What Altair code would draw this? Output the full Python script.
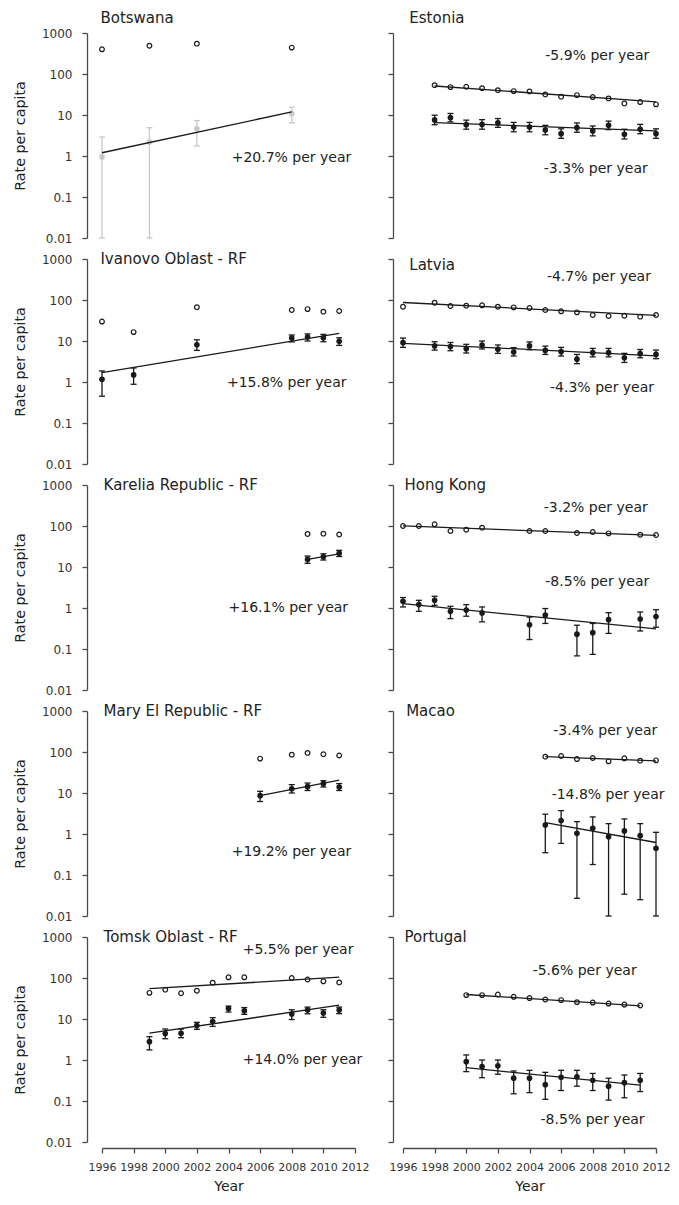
import altair as alt
import pandas as pd

# ---------------- data ----------------
# Botswana
bw_years = [1996, 1999, 2002, 2008]
bw_open = [400, 490, 550, 440]
bw_rate = [0.95, 2.2, 4.6, 10.8]
bw_lo = [0.01, 0.01, 1.75, 6.4]
bw_hi = [2.9, 4.9, 7.3, 15.4]
bw_fit_years = [1996, 2008]
bw_fit_rate = [1.2, 11.9]

# Estonia
ee_years = [1998, 1999, 2000, 2001, 2002, 2003, 2004, 2005, 2006, 2007, 2008, 2009, 2010, 2011, 2012]
ee_open = [53.5, 47.9, 48.9, 45.2, 40.4, 38.3, 37.6, 31.8, 28.0, 30.6, 27.4, 25.4, 19.2, 20.7, 18.2]
ee_rate = [7.6, 8.6, 5.8, 5.9, 6.4, 5.1, 5.1, 4.3, 3.5, 4.9, 4.1, 5.6, 3.4, 4.5, 3.5]
ee_hi = [9.9, 10.9, 7.5, 7.7, 8.2, 6.6, 6.6, 5.6, 4.6, 6.4, 5.4, 7.1, 4.5, 5.9, 4.6]
ee_lo = [5.8, 6.8, 4.5, 4.5, 5.0, 3.9, 3.9, 3.3, 2.7, 3.8, 3.1, 4.4, 2.6, 3.5, 2.7]
ee_fit_years = [1998, 2012]
ee_fit_open = [51, 21]
ee_fit_rate = [6.5, 4.1]

# Ivanovo Oblast
iv_years = [1996, 1998, 2002, 2008, 2009, 2010, 2011]
iv_open = [29.8, 16.5, 67, 57, 60, 52, 54]
iv_rate = [1.17, 1.49, 8.1, 11.8, 12.5, 12.0, 9.8]
iv_hi = [1.86, 2.2, 10.7, 14.0, 14.9, 14.5, 12.0]
iv_lo = [0.45, 0.88, 5.9, 9.5, 10.0, 9.6, 7.8]
iv_fit_years = [1996, 2011]
iv_fit_rate = [1.7, 15.4]

# Latvia
lv_years = [1996, 1998, 1999, 2000, 2001, 2002, 2003, 2004, 2005, 2006, 2007, 2008, 2009, 2010, 2011, 2012]
lv_open = [68.7, 86, 71.5, 72.8, 74.2, 68.7, 66.2, 63.8, 57, 53, 50, 43, 40.7, 41.4, 39.2, 43]
lv_rate = [9.1, 7.6, 7.3, 6.5, 8.0, 6.3, 5.4, 7.6, 5.9, 5.5, 3.6, 5.2, 5.2, 3.9, 4.9, 4.7]
lv_hi = [11.8, 9.6, 9.2, 8.3, 10.0, 8.0, 6.9, 9.5, 7.5, 7.0, 4.7, 6.6, 6.6, 5.0, 6.2, 6.0]
lv_lo = [7.0, 6.0, 5.8, 5.1, 6.4, 5.0, 4.3, 6.1, 4.7, 4.3, 2.8, 4.1, 4.1, 3.0, 3.9, 3.7]
lv_fit_years = [1996, 2012]
lv_fit_open = [87, 42]
lv_fit_rate = [8.8, 4.36]

# Karelia Republic
ka_years = [2009, 2010, 2011]
ka_open = [64, 65, 62]
ka_rate = [15.3, 17.8, 21.5]
ka_hi = [18.5, 21.0, 25.5]
ka_lo = [12.3, 14.8, 18.0]
ka_fit_years = [2009, 2011]
ka_fit_rate = [15.4, 20.8]

# Hong Kong
hk_years = [1996, 1997, 1998, 1999, 2000, 2001, 2004, 2005, 2007, 2008, 2009, 2011, 2012]
hk_open = [100, 100, 110, 75.5, 81.3, 91, 75.5, 75.5, 67.5, 71.4, 66.2, 61.4, 60.3]
hk_rate = [1.46, 1.21, 1.54, 0.83, 0.89, 0.76, 0.39, 0.67, 0.23, 0.25, 0.52, 0.54, 0.62]
hk_hi = [1.8, 1.54, 1.93, 1.1, 1.21, 1.06, 0.6, 0.97, 0.38, 0.42, 0.77, 0.8, 0.91]
hk_lo = [1.06, 0.83, 1.16, 0.55, 0.63, 0.46, 0.17, 0.42, 0.068, 0.074, 0.24, 0.275, 0.34]
hk_fit_years = [1996, 2012]
hk_fit_open = [100.4, 59.4]
hk_fit_rate = [1.28, 0.31]

# Mary El Republic
me_years = [2006, 2008, 2009, 2010, 2011]
me_open = [69, 86, 95, 88, 82]
me_rate = [8.6, 12.7, 14.3, 16.9, 14.0]
me_hi = [11.0, 16.0, 17.5, 20.0, 17.0]
me_lo = [6.2, 10.0, 11.5, 14.0, 11.5]
me_fit_years = [2006, 2011]
me_fit_rate = [8.6, 20.5]

# Macao
mo_years = [2005, 2006, 2007, 2008, 2009, 2010, 2011, 2012]
mo_open = [77, 79.8, 67.3, 71.3, 59.1, 70.2, 61.5, 62.6]
mo_rate = [1.66, 2.12, 1.04, 1.38, 0.86, 1.19, 0.91, 0.45]
mo_hi = [3.04, 3.72, 2.0, 2.61, 1.79, 2.33, 1.79, 1.1]
mo_lo = [0.35, 0.59, 0.027, 0.18, 0.01, 0.034, 0.025, 0.01]
mo_fit_years = [2005, 2012]
mo_fit_open = [77, 60.5]
mo_fit_rate = [1.89, 0.62]

# Tomsk Oblast
to_years = [1999, 2000, 2001, 2002, 2003, 2004, 2005, 2008, 2009, 2010, 2011]
to_open = [43.5, 52, 42.5, 49, 77, 104, 104, 100, 92, 83, 78]
to_rate = [2.8, 4.4, 4.5, 6.9, 8.7, 18, 15.9, 13.2, 16.5, 14.0, 16.5]
to_hi = [3.7, 5.7, 5.7, 8.3, 10.8, 20.6, 19, 16.8, 19.5, 16.8, 19.5]
to_lo = [1.76, 3.3, 3.5, 5.6, 6.6, 14.8, 13, 9.7, 13.4, 11, 13.5]
to_fit_years = [1999, 2011]
to_fit_open = [55, 104.5]
to_fit_rate = [4.5, 21.7]

# Portugal
pt_years = [2000, 2001, 2002, 2003, 2004, 2005, 2006, 2007, 2008, 2009, 2010, 2011]
pt_open = [38.3, 38.3, 39.6, 34.8, 32.4, 29.9, 28.9, 25.8, 25.2, 23.8, 22.5, 21.3]
pt_rate = [0.91, 0.69, 0.72, 0.36, 0.36, 0.25, 0.38, 0.39, 0.32, 0.23, 0.28, 0.32]
pt_hi = [1.33, 1.0, 1.0, 0.54, 0.56, 0.5, 0.56, 0.56, 0.47, 0.36, 0.43, 0.47]
pt_lo = [0.52, 0.37, 0.45, 0.15, 0.16, 0.11, 0.18, 0.23, 0.18, 0.105, 0.12, 0.17]
pt_fit_years = [2000, 2011]
pt_fit_open = [39.6, 21.0]
pt_fit_rate = [0.65, 0.245]

# Panel titles: (text, year, value)
bw_title = ("Botswana", 1995.9, 2300)
ee_title = ("Estonia", 1996.4, 2300)
iv_title = ("Ivanovo Oblast - RF", 1995.9, 1000)
lv_title = ("Latvia", 1996.4, 700)
ka_title = ("Karelia Republic - RF", 1996.1, 1000)
hk_title = ("Hong Kong", 1996.1, 1000)
me_title = ("Mary El Republic - RF", 1996.1, 1000)
mo_title = ("Macao", 1996.2, 1000)
to_title = ("Tomsk Oblast - RF", 1996.1, 1000)
pt_title = ("Portugal", 1996.1, 1000)

# Trend annotations: (text, year, value)
bw_text = [("+20.7% per year", 2004.2, 0.87)]
ee_text = [("-5.9% per year", 2005.0, 270), ("-3.3% per year", 2004.9, 0.48)]
iv_text = [("+15.8% per year", 2003.9, 0.97)]
lv_text = [("-4.7% per year", 2005.1, 357), ("-4.3% per year", 2005.3, 0.70)]
ka_text = [("+16.1% per year", 2004.0, 1.0)]
hk_text = [("-3.2% per year", 2004.9, 279), ("-8.5% per year", 2005.0, 4.3)]
me_text = [("+19.2% per year", 2004.2, 0.37)]
mo_text = [("-3.4% per year", 2005.5, 327), ("-14.8% per year", 2005.4, 9.1)]
to_text = [("+5.5% per year", 2004.9, 470), ("+14.0% per year", 2004.9, 1.0)]
pt_text = [("-5.6% per year", 2004.2, 145), ("-8.5% per year", 2004.7, 0.034)]

y_ticks = [0.01, 0.1, 1, 10, 100, 1000]
x_ticks = [1996, 1998, 2000, 2002, 2004, 2006, 2008, 2010, 2012]

FONT = "DejaVu Sans"
INK = "#1a1a1a"
AX = "#4a4a4a"

xscale = alt.Scale(domain=[1996, 2012], nice=False, zero=False)
yscale = alt.Scale(type="log", domain=[0.01, 1000], nice=False)


def left_axis():
    return alt.Axis(values=y_ticks, format="~g", title="Rate per capita", grid=False,
                    offset=15, tickSize=5, labelPadding=10, labelFontSize=12,
                    labelFlush=False, labelOverlap=False,
                    titleFontSize=14.3, titlePadding=14, titleFontWeight="normal")


def right_axis():
    return alt.Axis(values=y_ticks, labels=False, title=None, grid=False,
                    offset=10, tickSize=5)


def bottom_axis():
    return alt.Axis(values=x_ticks, format="d", title="Year", grid=False,
                    offset=6, tickSize=5, labelPadding=8, labelFontSize=11,
                    labelFlush=False, labelOverlap=False,
                    titleFontSize=14, titlePadding=7, titleFontWeight="normal")


def panel(years, openv, rate, lo, hi, fit_years, fit_open, fit_rate, title, texts,
          col, bottom, pt_color=INK, err_color=INK):
    xa = bottom_axis() if bottom else None
    ya = left_axis() if col == 0 else right_axis()

    def X(f):
        return alt.X(f, type="quantitative", scale=xscale, axis=xa)

    def Y(f):
        return alt.Y(f, type="quantitative", scale=yscale, axis=ya)

    pts = pd.DataFrame({"year": years, "rate": rate, "lo": lo, "hi": hi})
    opn = pd.DataFrame({"year": years, "v": openv})
    layers = []
    layers.append(alt.Chart(opn).mark_point(shape="circle", filled=False, size=22,
                                            strokeWidth=1.2, color=INK, opacity=1)
                  .encode(x=X("year"), y=Y("v")))
    layers.append(alt.Chart(pts).mark_rule(strokeWidth=1.3, color=err_color)
                  .encode(x=X("year"), y=Y("lo"), y2=alt.Y2("hi")))
    layers.append(alt.Chart(pts).mark_tick(orient="horizontal", size=6, thickness=1.3,
                                           color=err_color, opacity=1)
                  .encode(x=X("year"), y=Y("hi")))
    layers.append(alt.Chart(pts).mark_tick(orient="horizontal", size=6, thickness=1.3,
                                           color=err_color, opacity=1)
                  .encode(x=X("year"), y=Y("lo")))
    layers.append(alt.Chart(pts).mark_circle(size=32, color=pt_color, opacity=1)
                  .encode(x=X("year"), y=Y("rate")))
    if fit_open is not None:
        fo = pd.DataFrame({"year": fit_years, "v": fit_open})
        layers.append(alt.Chart(fo).mark_line(color=INK, strokeWidth=1.3)
                      .encode(x=X("year"), y=Y("v")))
    fr = pd.DataFrame({"year": fit_years, "v": fit_rate})
    layers.append(alt.Chart(fr).mark_line(color=INK, strokeWidth=1.3)
                  .encode(x=X("year"), y=Y("v")))
    tt = pd.DataFrame({"label": [title[0]], "year": [title[1]], "v": [title[2]]})
    layers.append(alt.Chart(tt).mark_text(align="left", baseline="middle", font=FONT,
                                          fontSize=15, color="#222222")
                  .encode(x=X("year"), y=Y("v"), text="label:N"))
    tx = pd.DataFrame({"label": [t[0] for t in texts],
                       "year": [t[1] for t in texts],
                       "v": [t[2] for t in texts]})
    layers.append(alt.Chart(tx).mark_text(align="left", baseline="middle", font=FONT,
                                          fontSize=14, color="#222222")
                  .encode(x=X("year"), y=Y("v"), text="label:N"))
    return alt.layer(*layers).properties(width=253, height=205)


panels = [
    panel(bw_years, bw_open, bw_rate, bw_lo, bw_hi, bw_fit_years, None, bw_fit_rate,
          bw_title, bw_text, 0, False, pt_color="#c8c8c8", err_color="#c8c8c8"),
    panel(ee_years, ee_open, ee_rate, ee_lo, ee_hi, ee_fit_years, ee_fit_open, ee_fit_rate,
          ee_title, ee_text, 1, False),
    panel(iv_years, iv_open, iv_rate, iv_lo, iv_hi, iv_fit_years, None, iv_fit_rate,
          iv_title, iv_text, 0, False),
    panel(lv_years, lv_open, lv_rate, lv_lo, lv_hi, lv_fit_years, lv_fit_open, lv_fit_rate,
          lv_title, lv_text, 1, False),
    panel(ka_years, ka_open, ka_rate, ka_lo, ka_hi, ka_fit_years, None, ka_fit_rate,
          ka_title, ka_text, 0, False),
    panel(hk_years, hk_open, hk_rate, hk_lo, hk_hi, hk_fit_years, hk_fit_open, hk_fit_rate,
          hk_title, hk_text, 1, False),
    panel(me_years, me_open, me_rate, me_lo, me_hi, me_fit_years, None, me_fit_rate,
          me_title, me_text, 0, False),
    panel(mo_years, mo_open, mo_rate, mo_lo, mo_hi, mo_fit_years, mo_fit_open, mo_fit_rate,
          mo_title, mo_text, 1, False),
    panel(to_years, to_open, to_rate, to_lo, to_hi, to_fit_years, to_fit_open, to_fit_rate,
          to_title, to_text, 0, True),
    panel(pt_years, pt_open, pt_rate, pt_lo, pt_hi, pt_fit_years, pt_fit_open, pt_fit_rate,
          pt_title, pt_text, 1, True),
]

chart = (alt.concat(*panels, columns=2, spacing={"row": 21, "column": 48}, bounds="flush")
         .properties(padding={"left": 5, "top": 3, "right": 0, "bottom": 0})
         .configure(font=FONT)
         .configure_view(stroke=None)
         .configure_axis(domainColor=AX, tickColor=AX, domainWidth=1.3, tickWidth=1.3,
                         labelColor="#333333", titleColor="#222222",
                         labelFont=FONT, titleFont=FONT))

chart.save("out.html", embed_options={"renderer": "svg", "actions": False})
